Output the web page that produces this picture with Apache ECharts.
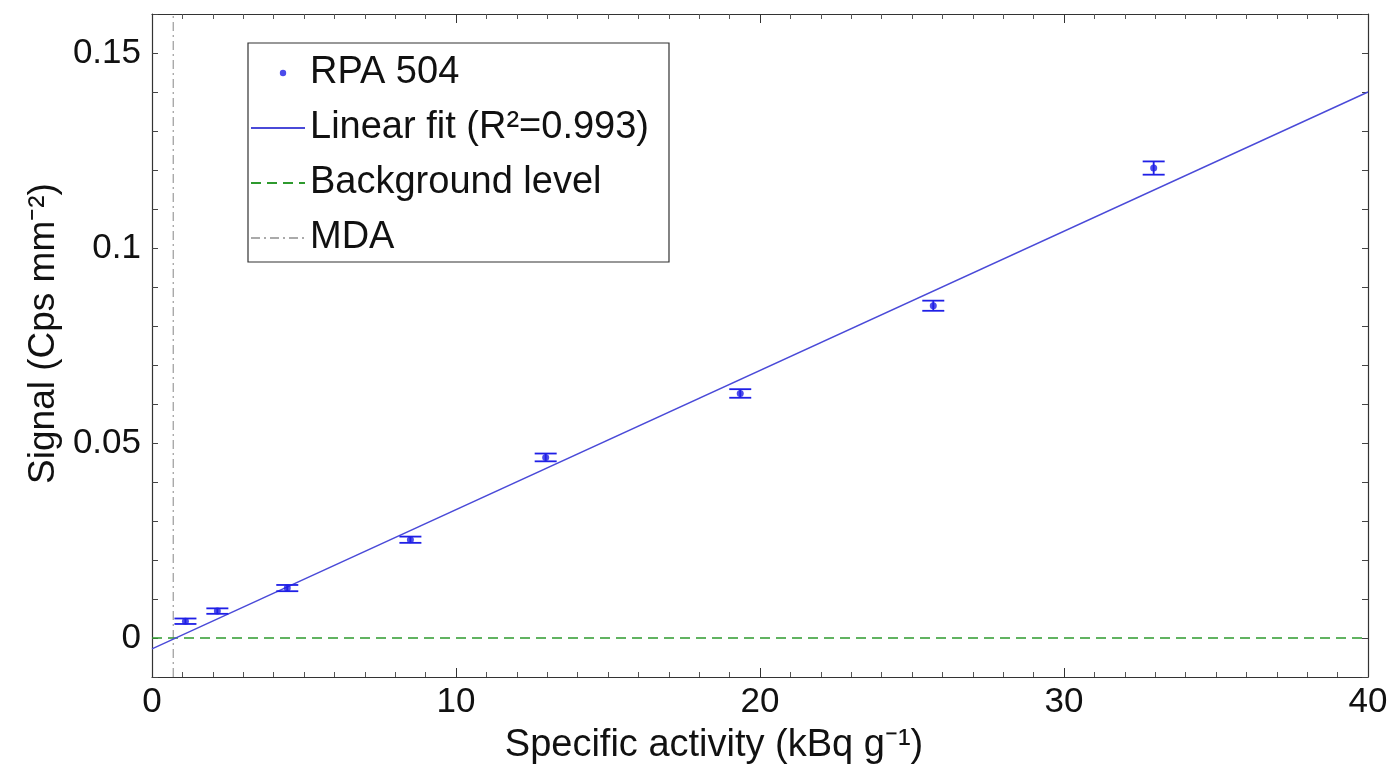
<!DOCTYPE html>
<html>
<head>
<meta charset="utf-8">
<script src="https://cdn.jsdelivr.net/npm/echarts@6/dist/echarts.min.js"></script>
<style>
html,body{margin:0;padding:0;background:#fff;}
#c{width:1393px;height:768px;}
</style>
</head>
<body>
<div id="c"></div>
<script>
// ---- data ----
const activity = [1.1, 2.15, 4.45, 8.5, 12.95, 19.35, 25.7, 32.95];
const signal = [0.0043, 0.0069, 0.0128, 0.0252, 0.0463, 0.0627, 0.0852, 0.1205];
const signalErr = [0.0007, 0.0007, 0.0008, 0.0008, 0.0010, 0.0011, 0.0013, 0.0017];
const fitSlope = [0.00357];
const fitIntercept = [-0.0028];
const fitRange = [0, 40];
const backgroundLevel = [0];
const mdaActivity = [0.7];
const yTickLabels = [0, 0.05, 0.1, 0.15];
const xTickLabels = [0, 10, 20, 30, 40];
const seriesNames = ['RPA 504', 'Linear fit (R\u00b2=0.993)', 'Background level', 'MDA'];

// ---- derived ----
const fitLine = fitRange.map(x => [x, fitIntercept[0] + fitSlope[0] * x]);
const errData = activity.map((x, i) => [x, signal[i] - signalErr[i], signal[i] + signalErr[i]]);
const pts = activity.map((x, i) => [x, signal[i]]);
const bgLine = fitRange.map(x => [x, backgroundLevel[0]]);
const mdaLine = [[mdaActivity[0], -0.01], [mdaActivity[0], 0.16]];

const FONT = 'Liberation Sans, Arial, Helvetica, sans-serif';
const blue = '#1f1fe6';
const dotSvg = '<svg xmlns="http://www.w3.org/2000/svg" width="54" height="38" viewBox="0 0 54 38"><circle cx="32" cy="19" r="3.2" fill="' + blue + '"/></svg>';
const dotIcon = 'image://data:image/svg+xml;charset=utf-8,' + encodeURIComponent(dotSvg);

const chart = echarts.init(document.getElementById('c'), null, {renderer: 'canvas'});

const ySet = new Set(yTickLabels.map(v => Math.round(v * 1000)));
function yFmt(v) {
  const k = Math.round(v * 1000);
  return ySet.has(k) ? String(Math.round(v * 100) / 100) : '';
}

const axisLineStyle = {color: '#333', width: 1.2};
const hidden = {opacity: 0, color: 'rgba(0,0,0,0)'};

chart.setOption({
  animation: false,
  backgroundColor: '#fff',
  grid: {left: 152, right: 25, top: 14, bottom: 91, containLabel: false, outerBoundsMode: 'none'},
  xAxis: [
    {
      type: 'value', min: 0, max: 40, interval: 10, position: 'bottom',
      name: 'Specific activity (kBq g\u207b\u00b9)', nameLocation: 'middle', nameGap: 50,
      nameTextStyle: {fontFamily: FONT, fontSize: 38, color: '#111', padding: [0, 92, 0, 0]},
      axisLine: {show: true, onZero: false, lineStyle: axisLineStyle},
      axisTick: {show: true, inside: true, length: 9, lineStyle: {color: '#333'}},
      minorTick: {show: true, splitNumber: 10, length: 5, lineStyle: {color: '#555'}},
      axisLabel: {fontFamily: FONT, fontSize: 35, color: '#111', margin: 8},
      splitLine: {show: false}, minorSplitLine: {show: false}
    },
    {
      type: 'value', min: 0, max: 40, interval: 10, position: 'top',
      axisLine: {show: true, onZero: false, lineStyle: axisLineStyle},
      axisTick: {show: true, inside: true, length: 9, lineStyle: {color: '#333'}},
      minorTick: {show: true, splitNumber: 10, length: 5, lineStyle: {color: '#555'}},
      axisLabel: {show: false}, splitLine: {show: false}
    }
  ],
  yAxis: [
    {
      type: 'value', min: -0.01, max: 0.16, interval: 0.01, position: 'left',
      name: 'Signal (Cps mm\u207b\u00b2)', nameLocation: 'middle', nameGap: 90, nameRotate: 90,
      nameTextStyle: {fontFamily: FONT, fontSize: 37, color: '#111', padding: [0, 0, 0, 24]},
      axisLine: {show: true, onZero: false, lineStyle: axisLineStyle},
      axisTick: {show: true, inside: true, length: 6, lineStyle: {color: '#444'}},
      axisLabel: {fontFamily: FONT, fontSize: 35, color: '#111', margin: 11, formatter: yFmt},
      splitLine: {show: false}
    },
    {
      type: 'value', min: -0.01, max: 0.16, interval: 0.01, position: 'right',
      axisLine: {show: true, onZero: false, lineStyle: axisLineStyle},
      axisTick: {show: true, inside: true, length: 6, lineStyle: {color: '#444'}},
      axisLabel: {show: false}, splitLine: {show: false}
    }
  ],
  legend: {
    orient: 'vertical', left: 248, top: 43,
    backgroundColor: '#fff', borderColor: '#333', borderWidth: 1.2, borderRadius: 0,
    padding: [11, 20, 5, 2],
    itemWidth: 54, itemHeight: 38, itemGap: 17,
    textStyle: {fontFamily: FONT, fontSize: 38, color: '#111'},
    data: [
      {name: seriesNames[0], icon: dotIcon},
      {name: seriesNames[1], itemStyle: hidden},
      {name: seriesNames[2], itemStyle: hidden},
      {name: seriesNames[3], itemStyle: hidden}
    ]
  },
  series: [
    {
      name: seriesNames[3], type: 'line', data: mdaLine, symbol: 'none', silent: true,
      itemStyle: hidden,
      lineStyle: {color: '#aaaaaa', width: 1.4, type: [9, 4, 2, 4]}, z: 1
    },
    {
      name: seriesNames[2], type: 'line', data: bgLine, symbol: 'none', silent: true,
      itemStyle: hidden,
      lineStyle: {color: '#2e9a2e', width: 1.4, type: [10, 6]}, z: 2
    },
    {
      name: seriesNames[1], type: 'line', data: fitLine, symbol: 'none', silent: true,
      itemStyle: hidden,
      lineStyle: {color: '#4a4ad8', width: 1.4}, z: 3
    },
    {
      name: seriesNames[0] + ' err', type: 'custom', data: errData, z: 4, silent: true,
      renderItem: function (params, api) {
        const x = api.value(0);
        const lo = api.coord([x, api.value(1)]);
        const hi = api.coord([x, api.value(2)]);
        const hw = 11;
        const style = {stroke: blue, lineWidth: 1.8};
        return {type: 'group', children: [
          {type: 'line', shape: {x1: lo[0], y1: lo[1], x2: hi[0], y2: hi[1]}, style: style},
          {type: 'line', shape: {x1: lo[0] - hw, y1: lo[1], x2: lo[0] + hw, y2: lo[1]}, style: style},
          {type: 'line', shape: {x1: hi[0] - hw, y1: hi[1], x2: hi[0] + hw, y2: hi[1]}, style: style}
        ]};
      }
    },
    {
      name: seriesNames[0], type: 'scatter', data: pts, symbol: 'circle', symbolSize: 7,
      itemStyle: {color: blue}, z: 5
    }
  ]
});
</script>
</body>
</html>
